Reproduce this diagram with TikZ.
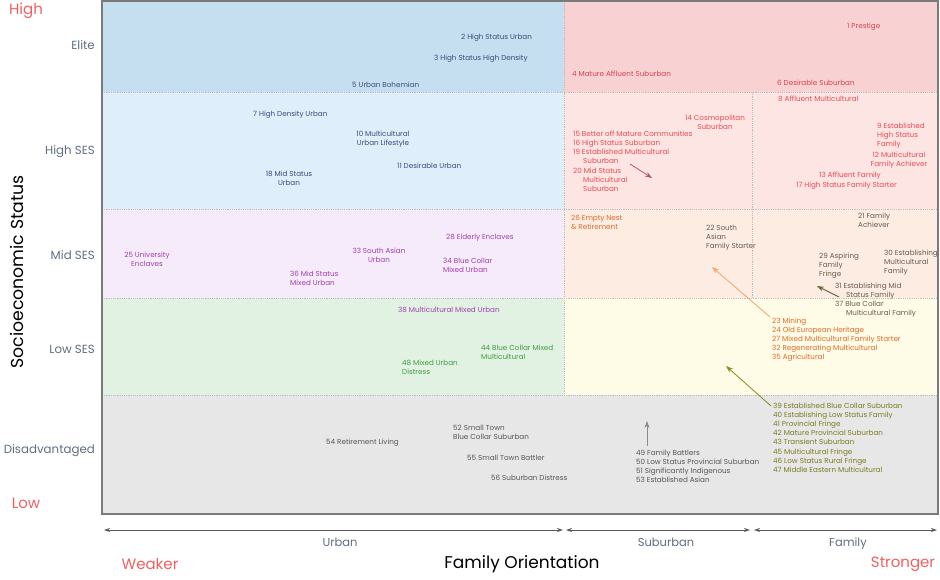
\documentclass[tikz,border=0pt]{standalone}
\usepackage{fontspec}
\setmainfont{Poppins}
\usetikzlibrary{arrows.meta}
\definecolor{eliteB}{HTML}{C5DFF1}
\definecolor{eliteP}{HTML}{F8D2D3}
\definecolor{highB}{HTML}{DFEEFB}
\definecolor{highP}{HTML}{FDE5E4}
\definecolor{midL}{HTML}{F6EBFA}
\definecolor{midP}{HTML}{FDECE1}
\definecolor{lowG}{HTML}{E1F2E3}
\definecolor{lowY}{HTML}{FEFCE6}
\definecolor{disG}{HTML}{E7E7E7}
\definecolor{tBlue}{HTML}{3D4A78}
\definecolor{tRed}{HTML}{D9404F}
\definecolor{tRedL}{HTML}{EC4A52}
\definecolor{tPur}{HTML}{A23DB0}
\definecolor{tGreen}{HTML}{3E9B3E}
\definecolor{tOrange}{HTML}{E06A2A}
\definecolor{tBrown}{HTML}{6B5B4E}
\definecolor{tOlive}{HTML}{7C7A1E}
\definecolor{tGray}{HTML}{555555}
\definecolor{axisT}{HTML}{5E6E80}
\definecolor{axisR}{HTML}{F06060}
\definecolor{frameC}{HTML}{7A7A7A}
\definecolor{divC}{HTML}{BDBDBD}
\definecolor{arRed}{HTML}{B95262}
\definecolor{arOliveD}{HTML}{6E6B3E}
\definecolor{arOrange}{HTML}{F5A46A}
\definecolor{arOlive}{HTML}{8C8C22}
\definecolor{arGray}{HTML}{8A8A8A}
\tikzset{
  lbl/.style={font=\fontsize{7.2}{9.2}\selectfont, inner sep=0pt, anchor=north west, align=left},
  lblc/.style={lbl, anchor=north, align=center},
  rowlab/.style={font=\fontsize{11.8}{13}\selectfont, text=axisT, inner sep=0pt, anchor=east},
  hilo/.style={font=\fontsize{15}{17}\selectfont, text=axisR, inner sep=0pt},
  axlab/.style={font=\fontsize{11.5}{13}\selectfont, text=axisT, inner sep=0pt},
  divider/.style={draw=divC, line width=0.4pt, dash pattern=on 1.2pt off 1pt},
  axarrow/.style={draw=black!65, line width=0.8pt, {Stealth[length=6pt,width=4pt]}-{Stealth[length=6pt,width=4pt]}},
  ptr/.style={line width=0.8pt, -{Stealth[length=7pt,width=5pt]}},
}
\begin{document}
\begin{tikzpicture}[x=1pt,y=-1pt]
\useasboundingbox (0,0) rectangle (940,579);
% ---- region fills
\fill[eliteB] (102,1) rectangle (564,92);
\fill[eliteP] (564,1) rectangle (938,92);
\fill[highB] (102,92) rectangle (564,209);
\fill[highP] (564,92) rectangle (938,209);
\fill[midL] (102,209) rectangle (564,298);
\fill[midP] (564,209) rectangle (938,298);
\fill[lowG] (102,298) rectangle (564,395);
\fill[lowY] (564,298) rectangle (938,395);
\fill[disG] (102,395) rectangle (938,514);
% ---- dividers
\draw[divider] (102,92) -- (938,92);
\draw[divider] (102,209) -- (938,209);
\draw[divider] (102,298) -- (938,298);
\draw[divider] (102,395) -- (938,395);
\draw[divider] (564,1) -- (564,395);
\draw[divider] (752,92) -- (752,298);
% ---- frame
\draw[frameC, line width=1.2pt] (102,1) rectangle (938,514);

% ---- left axis
\node[hilo] (high) at (26,11) {High};
\node[hilo] (low) at (26,503) {Low};
\node[rowlab] (elite) at (95,45) {Elite};
\node[rowlab] (highses) at (95,152) {High SES};
\node[rowlab] (midses) at (95,255) {Mid SES};
\node[rowlab] (lowses) at (95,349) {Low SES};
\node[rowlab] (disadv) at (95,451) {Disadvantaged};
\node[font=\fontsize{17.3}{19}\selectfont, rotate=90, inner sep=0pt] (ses) at (17,272) {Socioeconomic Status};

% ---- bottom axis
\coordinate (uL) at (104,530); \coordinate (uR) at (563,530);
\coordinate (sL) at (566,530); \coordinate (sR) at (750,530);
\coordinate (fL) at (754,530); \coordinate (fR) at (937,530);
\draw[axarrow] (uL) -- (uR);
\draw[axarrow] (sL) -- (sR);
\draw[axarrow] (fL) -- (fR);
\node[axlab] (urban) at (340,542) {Urban};
\node[axlab] (suburban) at (666,542) {Suburban};
\node[axlab] (family) at (848,544) {Family};
\node[hilo] (weaker) at (150,564) {Weaker};
\node[hilo] (stronger) at (903,564) {Stronger};
\node[font=\fontsize{17}{19}\selectfont, inner sep=0pt] (famor) at (522,564) {Family Orientation};

% ---- Elite
\node[lbl, text=tBlue] (c2) at (461,33.5) {2 High Status Urban};
\node[lbl, text=tBlue] (c3) at (434,54.5) {3 High Status High Density};
\node[lbl, text=tBlue] (c5) at (352,81.5) {5 Urban Bohemian};
\node[lbl, text=tRed] (c1) at (847,22.5) {1 Prestige};
\node[lbl, text=tRed] (c4) at (572,70.5) {4 Mature Affluent Suburban};
\node[lbl, text=tRed] (c6) at (777,79.5) {6 Desirable Suburban};

% ---- High SES
\node[lbl, text=tBlue] (c7) at (253,110.5) {7 High Density Urban};
\node[lblc, text=tBlue] (c10) at (383,130.5) {10 Multicultural\\Urban Lifestyle};
\node[lbl, text=tBlue] (c11) at (397,162.5) {11 Desirable Urban};
\node[lblc, text=tBlue] (c18) at (289,170.5) {18 Mid Status\\Urban};
\node[lbl, text=tRedL] (c8) at (778,95.5) {8 Affluent Multicultural};
\node[lblc, text=tRedL] (c14) at (715,114.5) {14 Cosmopolitan\\Suburban};
\node[lbl, text=tRedL] (c15) at (573,130.5) {15 Better off Mature Communities\\16 High Status Suburban\\19 Established Multicultural\\\hspace*{10pt}Suburban\\20 Mid Status\\\hspace*{10pt}Multicultural\\\hspace*{10pt}Suburban};
\node[lbl, text=tRedL] (c9) at (877,122.5) {9 Established\\High Status\\Family};
\node[lblc, text=tRedL] (c12) at (899,151.5) {12 Multicultural\\Family Achiever};
\node[lbl, text=tRedL] (c13) at (819,171.5) {13 Affluent Family};
\node[lbl, text=tRedL] (c17) at (796,181.5) {17 High Status Family Starter};
\coordinate (r1) at (630,164);
\coordinate (r2) at (652,178);
\draw[ptr, draw=arRed] (r1) -- (r2);

% ---- Mid SES
\node[lblc, text=tPur] (c25) at (147,251.5) {25 University\\Enclaves};
\node[lbl, text=tPur] (c28) at (446,233.5) {28 Elderly Enclaves};
\node[lblc, text=tPur] (c33) at (379,247.5) {33 South Asian\\Urban};
\node[lbl, text=tPur] (c34) at (443,257.5) {34 Blue Collar\\Mixed Urban};
\node[lbl, text=tPur] (c36) at (290,270.5) {36 Mid Status\\Mixed Urban};
\node[lbl, text=tOrange] (c26) at (571,214.5) {26 Empty Nest\\\&\ Retirement};
\node[lbl, text=tBrown] (c22) at (706,224.5) {22 South\\Asian\\Family Starter};
\node[lbl, text=tBrown] (c21) at (858,212.5) {21 Family\\Achiever};
\node[lbl, text=tBrown] (c29) at (819,252.5) {29 Aspiring\\Family\\Fringe};
\node[lbl, text=tBrown] (c30) at (884,249.5) {30 Establishing\\Multicultural\\Family};
\node[lbl, text=tBrown] (c31) at (835,282.5) {31 Establishing Mid\\\hspace*{11pt}Status Family};
\node[lbl, text=tBrown] (c37) at (835,300.5) {37 Blue Collar\\\hspace*{11pt}Multicultural Family};
\coordinate (o1) at (839,297);
\coordinate (o2) at (817,286);
\draw[ptr, draw=arOliveD, line width=1pt] (o1) -- (o2);

% ---- Low SES
\node[lbl, text=tPur] (c38) at (398,306.5) {38 Multicultural Mixed Urban};
\node[lbl, text=tGreen] (c44) at (481,344.5) {44 Blue Collar Mixed\\Multicultural};
\node[lbl, text=tGreen] (c48) at (402,359.5) {48 Mixed Urban\\Distress};
\node[lbl, text=tOrange] (c23) at (772,317.5) {23 Mining\\24 Old European Heritage\\27 Mixed Multicultural Family Starter\\32 Regenerating Multicultural\\35 Agricultural};
\coordinate (a1) at (770,317);
\coordinate (a2) at (712,267);
\draw[ptr, draw=arOrange] (a1) -- (a2);
\coordinate (g1) at (771,406);
\coordinate (g2) at (726,366);
\draw[ptr, draw=arOlive] (g1) -- (g2);

% ---- Disadvantaged
\node[lbl, text=tOlive] (c39) at (773,402.5) {39 Established Blue Collar Suburban\\40 Establishing Low Status Family\\41 Provincial Fringe\\42 Mature Provincial Suburban\\43 Transient Suburban\\45 Multicultural Fringe\\46 Low Status Rural Fringe\\47 Middle Eastern Multicultural};
\node[lbl, text=tGray] (c49) at (636,449.5) {49 Family Battlers\\50 Low Status Provincial Suburban\\51 Significantly Indigenous\\53 Established Asian};
\coordinate (y1) at (647,446);
\coordinate (y2) at (647,421);
\draw[ptr, draw=arGray] (y1) -- (y2);
\node[lbl, text=tGray] (c54) at (326,438.5) {54 Retirement Living};
\node[lbl, text=tGray] (c52) at (453,424.5) {52 Small Town\\Blue Collar Suburban};
\node[lbl, text=tGray] (c55) at (467,454.5) {55 Small Town Battler};
\node[lbl, text=tGray] (c56) at (491,474.5) {56 Suburban Distress};
\end{tikzpicture}
\end{document}
